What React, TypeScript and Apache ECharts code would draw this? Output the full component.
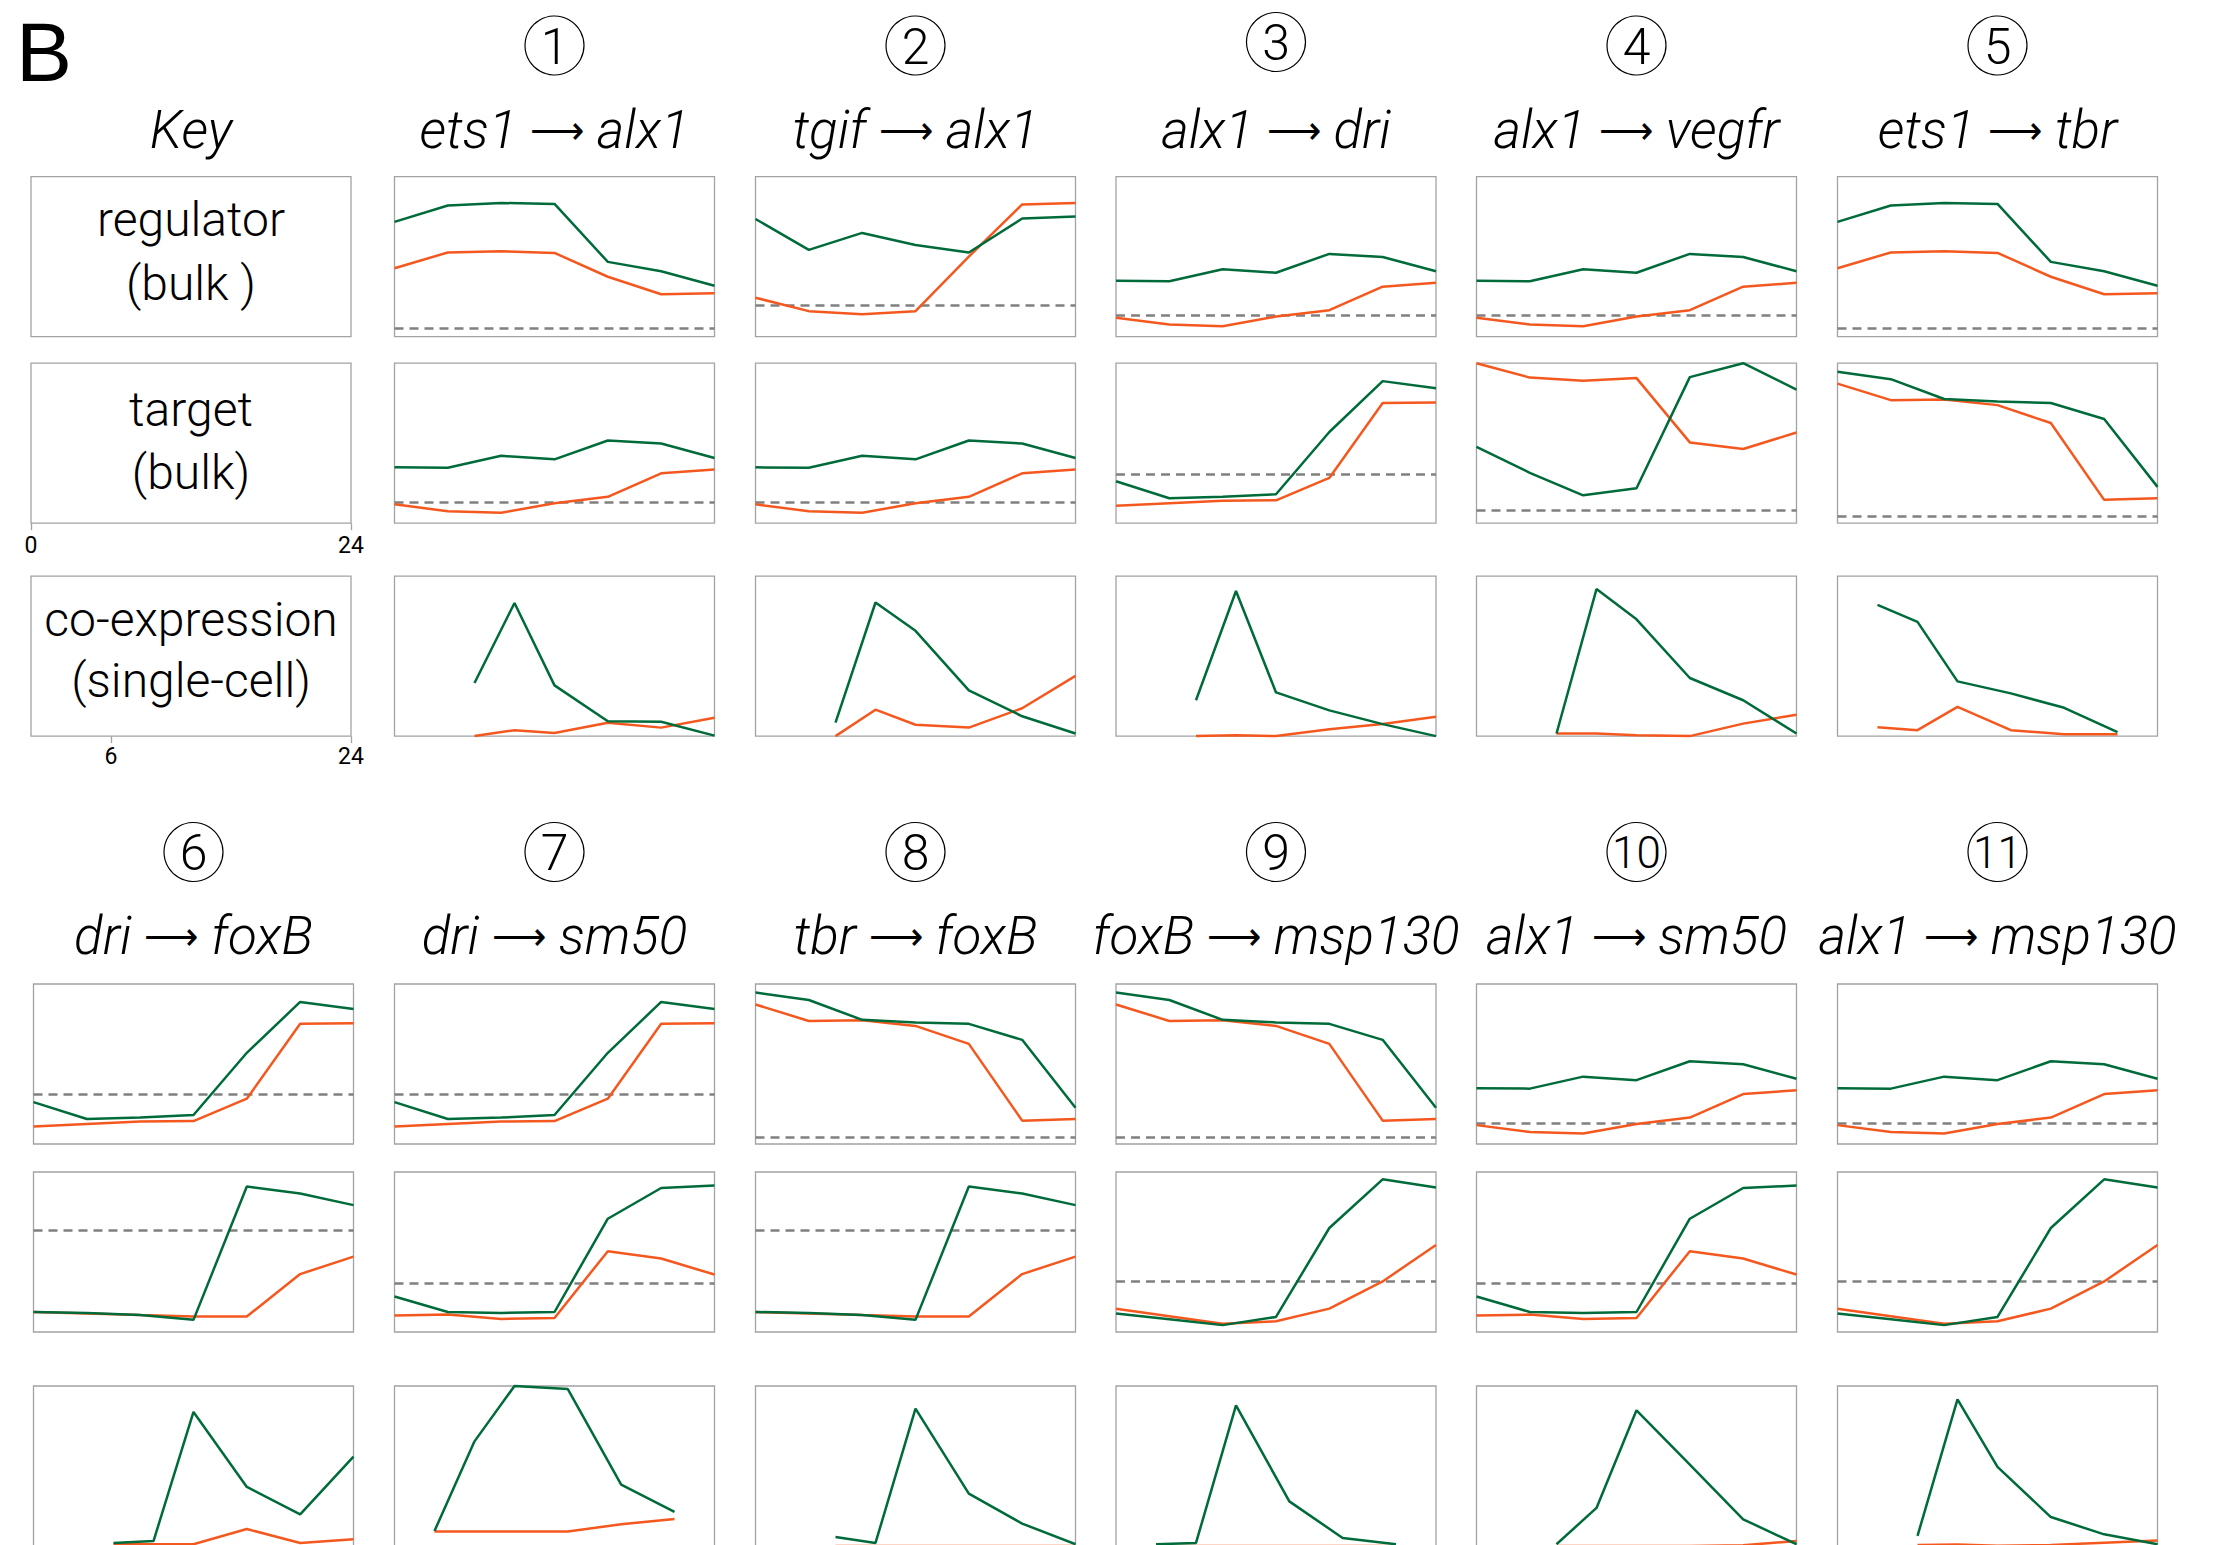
import React, { useEffect, useRef } from "react";
import * as echarts from "echarts";

// ---------- data ----------
const bulkHours = [0, 4, 8, 12, 16, 20, 24];
const scHours = [6, 9, 12, 16, 20, 24];
const scHoursEarly = [3, 6, 9, 13, 17, 21];

// bulk profiles (relative level, 0-100): green, orange, dashed threshold
const ets1Green = [71.7, 81.9, 83.5, 82.9, 46.7, 40.8, 31.8];
const ets1Orange = [42.7, 52.6, 53.3, 52.3, 37.4, 26.5, 27.1];
const ets1Threshold = 5.0;

const tgifGreen = [73.5, 54.2, 64.8, 57.3, 52.6, 73.8, 75.1];
const tgifOrange = [24.3, 15.9, 14.0, 15.9, 50.0, 82.6, 83.5];
const tgifThreshold = 19.6;

const alx1Green = [34.9, 34.6, 42.1, 39.9, 51.7, 49.8, 40.8];
const alx1Orange = [11.8, 7.5, 6.5, 12.5, 16.5, 31.2, 33.6];
const alx1Threshold = 13.1;

const driGreen = [26.2, 15.6, 16.5, 18.1, 57.0, 88.8, 84.4];
const driOrange = [10.9, 12.5, 14.0, 14.3, 28.3, 75.1, 75.4];
const driThreshold = 30.8;

const vegfrGreen = [47.7, 31.5, 17.4, 21.8, 91.3, 100, 83.5];
const vegfrOrange = [100, 91.0, 89.1, 90.7, 50.5, 46.4, 56.7];
const vegfrThreshold = 7.8;

const tbrGreen = [94.7, 90.0, 77.6, 76.0, 75.1, 65.1, 22.7];
const tbrOrange = [87.2, 76.9, 77.3, 73.8, 62.6, 14.6, 15.6];
const tbrThreshold = 4.4;

const foxBGreen = [12.5, 11.9, 10.6, 7.6, 90.9, 86.6, 79.3];
const foxBOrange = [12.5, 11.6, 10.6, 9.7, 9.7, 36.2, 47.1];
const foxBThreshold = 63.5;

const sm50Green = [22.2, 12.5, 11.9, 12.5, 70.8, 90.0, 91.5];
const sm50Orange = [10.3, 10.9, 8.2, 8.8, 50.5, 45.9, 35.9];
const sm50Threshold = 30.7;

const msp130Green = [11.6, 8.0, 4.3, 9.4, 65.0, 95.4, 90.3];
const msp130Orange = [14.6, 9.9, 5.2, 6.7, 14.6, 31.6, 54.4];
const msp130Threshold = 31.9;

// single-cell co-expression (relative level, 0-100)
const co1Green = [33.2, 83.2, 31.7, 9.3, 9.0, 0.3];
const co1Orange = [0, 3.7, 1.9, 8.4, 5.3, 11.5];
const co2Green = [8.4, 83.5, 65.8, 28.6, 12.4, 1.6];
const co2Orange = [0, 16.5, 7.1, 5.3, 17.4, 37.6];
const co3Green = [22.4, 90.7, 27.3, 16.1, 7.5, 0];
const co3Orange = [0, 0.6, 0, 4.3, 7.5, 12.1];
const co4Green = [1.6, 91.9, 73.0, 36.3, 22.4, 1.6];
const co4Orange = [1.6, 1.6, 0.6, 0, 7.8, 13.4];
const co5Green = [82.0, 71.4, 34.2, 26.7, 17.7, 2.5];
const co5Orange = [5.6, 3.7, 18.3, 3.7, 1.2, 1.2];
const co6Green = [1.9, 3.1, 83.8, 36.9, 19.8, 55.9];
const co6Orange = [1.1, 1.1, 1.1, 10.6, 1.9, 4.2];
const co7Green = [9.4, 65.4, 100, 98.1, 38.4, 21.3];
const co7Orange = [9.0, 9.0, 9.0, 9.0, 13.6, 16.9];
const co8Green = [5.6, 1.9, 85.9, 32.7, 14.0, 1.1];
const co8Orange = [0, 0, 0, 0, 0, 0];
const co9Green = [1.1, 1.9, 87.9, 27.9, 5.0, 1.1];
const co9Orange = [0, 0, 0, 0, 0, 0];
const co10Green = [1.1, 23.8, 84.8, 50.8, 16.7, 1.1];
const co10Orange = [0, 0, 0, 0, 0.5, 3.1];
const co11Green = [6.3, 91.7, 49.4, 18.1, 7.3, 1.1];
const co11Orange = [0.6, 1.0, 0.2, 0.6, 2.1, 3.5];

const panelNumbers = ["1", "2", "3", "4", "5", "6", "7", "8", "9", "10", "11"];
const panelRegulators = ["ets1", "tgif", "alx1", "alx1", "ets1", "dri", "dri", "tbr", "foxB", "alx1", "alx1"];
const panelTargets = ["alx1", "alx1", "dri", "vegfr", "tbr", "foxB", "sm50", "foxB", "msp130", "sm50", "msp130"];
const keyAxisTarget = [0, 24];
const keyAxisCo = [6, 24];

// ---------- styling / layout ----------
const FONT = "Roboto, 'Liberation Sans', Arial, sans-serif";
const GREEN = "#006b3a";
const ORANGE = "#f4581f";
const DASH = "#808080";
const BORDER = "#a3a3a3";
const W = 320;
const H = 160;
const colLeftTop = [31, 394.5, 755.5, 1116, 1476.5, 1837.5];
const colLeftBottom = [33.5, 394.5, 755.5, 1116, 1476.5, 1837.5];
const rowTopTop = [176.6, 363.2, 576.1];
const rowTopBottom = [984, 1172, 1386];

type Bulk = { g: number[]; o: number[]; t: number };
const ets1: Bulk = { g: ets1Green, o: ets1Orange, t: ets1Threshold };
const tgif: Bulk = { g: tgifGreen, o: tgifOrange, t: tgifThreshold };
const alx1: Bulk = { g: alx1Green, o: alx1Orange, t: alx1Threshold };
const dri: Bulk = { g: driGreen, o: driOrange, t: driThreshold };
const vegfr: Bulk = { g: vegfrGreen, o: vegfrOrange, t: vegfrThreshold };
const tbr: Bulk = { g: tbrGreen, o: tbrOrange, t: tbrThreshold };
const foxB: Bulk = { g: foxBGreen, o: foxBOrange, t: foxBThreshold };
const sm50: Bulk = { g: sm50Green, o: sm50Orange, t: sm50Threshold };
const msp130: Bulk = { g: msp130Green, o: msp130Orange, t: msp130Threshold };

const panels = [
  { reg: ets1, tgt: alx1, x: scHours, cg: co1Green, co: co1Orange },
  { reg: tgif, tgt: alx1, x: scHours, cg: co2Green, co: co2Orange },
  { reg: alx1, tgt: dri, x: scHours, cg: co3Green, co: co3Orange },
  { reg: alx1, tgt: vegfr, x: scHours, cg: co4Green, co: co4Orange },
  { reg: ets1, tgt: tbr, x: scHoursEarly, cg: co5Green, co: co5Orange },
  { reg: dri, tgt: foxB, x: scHours, cg: co6Green, co: co6Orange },
  { reg: dri, tgt: sm50, x: scHoursEarly, cg: co7Green, co: co7Orange },
  { reg: tbr, tgt: foxB, x: scHours, cg: co8Green, co: co8Orange },
  { reg: tbr, tgt: msp130, x: scHoursEarly, cg: co9Green, co: co9Orange },
  { reg: alx1, tgt: sm50, x: scHours, cg: co10Green, co: co10Orange },
  { reg: alx1, tgt: msp130, x: scHours, cg: co11Green, co: co11Orange },
];

function buildOption() {
  const grid: any[] = [];
  const xAxis: any[] = [];
  const yAxis: any[] = [];
  const series: any[] = [];
  const graphic: any[] = [];

  const addGrid = (left: number, top: number, xExtra?: any) => {
    const i = grid.length;
    grid.push({
      left,
      top,
      width: W,
      height: H,
      show: true,
      borderColor: BORDER,
      borderWidth: 1.3,
      backgroundColor: "rgba(0,0,0,0)",
      containLabel: false,
      outerBoundsMode: "none",
    });
    xAxis.push(
      Object.assign(
        { type: "value", gridIndex: i, min: 0, max: 24, show: false, splitLine: { show: false } },
        xExtra || {}
      )
    );
    yAxis.push({ type: "value", gridIndex: i, min: 0, max: 100, show: false, splitLine: { show: false } });
    return i;
  };

  const line = (gi: number, xs: number[], ys: number[], color: string, extra?: any) =>
    Object.assign(
      {
        type: "line",
        xAxisIndex: gi,
        yAxisIndex: gi,
        data: xs.map((h, k) => [h, ys[k]]),
        symbol: "none",
        showSymbol: false,
        silent: true,
        clip: false,
        lineStyle: { color, width: 2.5 },
        z: 3,
      },
      extra || {}
    );

  const bulkSeries = (gi: number, b: Bulk) => {
    series.push(line(gi, bulkHours, b.o, ORANGE));
    series.push(
      line(gi, bulkHours, b.g, GREEN, {
        markLine: {
          silent: true,
          symbol: ["none", "none"],
          label: { show: false },
          lineStyle: { type: [9, 6], color: DASH, width: 2.5 },
          data: [{ yAxis: b.t }],
          z: 2,
        },
      })
    );
  };

  // Key column
  const axisCommon = {
    show: true,
    axisLine: { show: false },
    axisTick: { show: true, length: 7, lineStyle: { color: BORDER, width: 1.3 } },
    axisLabel: { fontSize: 23, color: "#000", fontFamily: FONT },
  };
  addGrid(colLeftTop[0], rowTopTop[0]);
  addGrid(colLeftTop[0], rowTopTop[1], {
    ...axisCommon,
    axisTick: { ...axisCommon.axisTick, customValues: keyAxisTarget },
    axisLabel: { ...axisCommon.axisLabel, margin: 11, customValues: keyAxisTarget },
  });
  addGrid(colLeftTop[0], rowTopTop[2], {
    ...axisCommon,
    axisTick: { ...axisCommon.axisTick, customValues: keyAxisCo },
    axisLabel: { ...axisCommon.axisLabel, margin: 9, customValues: keyAxisCo },
  });

  panels.forEach((p, idx) => {
    const top = idx < 5;
    const col = top ? idx + 1 : idx - 5;
    const left = top ? colLeftTop[col] : colLeftBottom[col];
    const rows = top ? rowTopTop : rowTopBottom;
    const g0 = addGrid(left, rows[0]);
    bulkSeries(g0, p.reg);
    const g1 = addGrid(left, rows[1]);
    bulkSeries(g1, p.tgt);
    const g2 = addGrid(left, rows[2]);
    series.push(line(g2, p.x, p.co, ORANGE));
    series.push(line(g2, p.x, p.cg, GREEN));

    const cx = left + W / 2;
    const cy = top ? (idx === 2 ? 42 : 45.5) : 852;
    graphic.push({
      type: "circle",
      shape: { cx, cy, r: 29.5 },
      style: { fill: "none", stroke: "#000", lineWidth: 1.2 },
    });
    graphic.push({
      type: "text",
      x: cx,
      y: cy + 1,
      style: {
        text: panelNumbers[idx],
        fontSize: panelNumbers[idx].length > 1 ? 44 : 50,
        fontFamily: FONT,
        fontWeight: 300,
        fill: "#000",
        align: "center",
        verticalAlign: "middle",
      },
    });
    graphic.push({
      type: "text",
      x: cx,
      y: top ? 130 : 936,
      style: {
        text: `${panelRegulators[idx]} {a|⟶} ${panelTargets[idx]}`,
        fontSize: 53,
        fontStyle: "italic",
        fontFamily: FONT,
        fontWeight: 300,
        fill: "#000",
        align: "center",
        verticalAlign: "middle",
        rich: {
          a: {
            fontSize: 38,
            fontStyle: "normal",
            fontWeight: 300,
            fontFamily: "'DejaVu Sans', sans-serif",
            fill: "#000",
          },
        },
      },
    });
  });

  const keyCx = colLeftTop[0] + W / 2;
  const keyText = (text: string, y: number, size = 48, italic = false) =>
    graphic.push({
      type: "text",
      x: keyCx,
      y,
      style: {
        text,
        fontSize: size,
        fontFamily: FONT,
        fontWeight: 300,
        fontStyle: italic ? "italic" : "normal",
        fill: "#000",
        align: "center",
        verticalAlign: "middle",
      },
    });
  keyText("Key", 130, 53, true);
  keyText("regulator", 219);
  keyText("(bulk )", 283);
  keyText("target", 409);
  keyText("(bulk)", 472);
  keyText("co-expression", 619);
  keyText("(single-cell)", 680);

  graphic.push({
    type: "text",
    x: 44,
    y: 52,
    style: {
      text: "B",
      fontSize: 84,
      fontFamily: "'Liberation Sans', Arial, sans-serif",
      fontWeight: 400,
      fill: "#000",
      align: "center",
      verticalAlign: "middle",
    },
  });

  return {
    animation: false,
    backgroundColor: "#fff",
    grid,
    xAxis,
    yAxis,
    series,
    graphic,
  };
}

export default function App() {
  const ref = useRef<HTMLDivElement>(null);
  useEffect(() => {
    const chart = echarts.init(ref.current as HTMLDivElement, null, { renderer: "svg" });
    chart.setOption(buildOption() as any);
    return () => chart.dispose();
  }, []);
  return (
    <div
      ref={ref}
      style={{ position: "absolute", left: 0, top: 0, width: 2216, height: 1545, background: "#fff" }}
    />
  );
}
